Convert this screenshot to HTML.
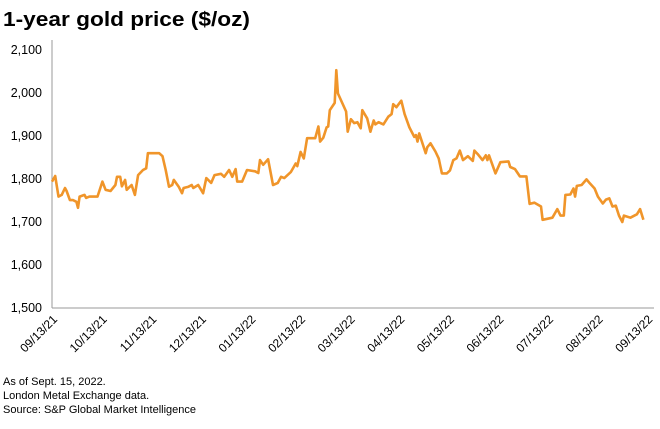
<!DOCTYPE html>
<html><head><meta charset="utf-8"><style>
body{margin:0;background:#fff;}
svg text{font-family:"Liberation Sans",sans-serif;}
</style></head><body>
<svg id="chart" width="660" height="424" viewBox="0 0 660 424" xmlns="http://www.w3.org/2000/svg">
<text x="3" y="26" font-size="20" font-weight="bold" fill="#000" textLength="247" lengthAdjust="spacingAndGlyphs">1-year gold price ($/oz)</text>
<g id="yaxis"></g>
<g id="xaxis"></g>
<line x1="52" y1="40" x2="52" y2="308" stroke="#9a9a9a" stroke-width="1"/>
<line x1="52" y1="308" x2="654" y2="308" stroke="#9a9a9a" stroke-width="1"/>
<path id="line" fill="none" stroke="#f0952a" stroke-width="2.6" stroke-linejoin="round"/>
<g font-size="11" fill="#000">
<text x="3" y="385">As of Sept. 15, 2022.</text>
<text x="3" y="399">London Metal Exchange data.</text>
<text x="3" y="413">Source: S&amp;P Global Market Intelligence</text>
</g>
</svg>
<script>
const yTicks=[1500,1600,1700,1800,1900,2000,2100];
const yTickLabels=["1,500","1,600","1,700","1,800","1,900","2,000","2,100"];
const xTickLabels=["09/13/21","10/13/21","11/13/21","12/13/21","01/13/22","02/13/22","03/13/22","04/13/22","05/13/22","06/13/22","07/13/22","08/13/22","09/13/22"];
const days=[0,2,4,6,8,9,11,13,15,16,17,20,21,23,28,31,33,36,39,40,42,43,45,46,49,51,53,56,58,59,63,66,68,70,72,74,75,78,80,81,84,86,87,90,93,95,98,100,104,106,109,111,113,114,117,120,125,127,128,130,133,136,139,141,143,147,150,151,153,155,157,162,164,165,167,169,170,171,174,175,176,181,182,184,186,188,190,191,194,196,198,199,201,204,207,209,210,212,215,217,220,223,224,225,226,230,231,233,236,238,240,243,245,247,249,251,253,256,259,260,262,265,267,268,269,273,276,281,282,285,288,292,294,297,301,302,308,311,313,315,316,319,321,322,323,326,329,331,334,336,339,341,343,345,347,349,351,352,356,360,362,364];
const prices=[1794,1807,1759,1763,1779,1772,1751,1751,1747,1733,1759,1763,1756,1759,1759,1794,1775,1772,1786,1805,1805,1783,1798,1775,1786,1763,1809,1821,1825,1860,1860,1860,1853,1821,1782,1786,1798,1782,1767,1779,1782,1786,1779,1786,1767,1802,1791,1809,1812,1805,1821,1805,1823,1794,1794,1821,1818,1814,1844,1833,1846,1786,1791,1805,1802,1816,1836,1830,1863,1848,1895,1895,1922,1887,1896,1920,1922,1960,1977,2053,1999,1957,1910,1939,1930,1932,1918,1960,1941,1910,1936,1927,1932,1927,1945,1951,1974,1967,1982,1951,1920,1898,1902,1887,1906,1860,1874,1883,1864,1848,1813,1813,1820,1844,1848,1866,1844,1853,1842,1866,1858,1844,1855,1844,1855,1813,1839,1841,1828,1823,1806,1806,1742,1745,1736,1705,1710,1730,1715,1715,1763,1764,1778,1759,1784,1786,1799,1790,1778,1759,1743,1752,1755,1736,1738,1715,1700,1715,1710,1718,1730,1705];
const NS='http://www.w3.org/2000/svg';
function yScale(v){return 308-(v-1500)*0.43;}
function xScale(d){return 52+d*(593/365);}
function tickX(i){return 52+i*49.6;}
const ya=document.getElementById('yaxis');
yTicks.forEach((v,i)=>{
 const t=document.createElementNS(NS,'text');
 
 
 t.setAttribute('x',42);t.setAttribute('y',yScale(v)+4);
 t.setAttribute('text-anchor','end');t.setAttribute('font-size','12.5');
 t.textContent=yTickLabels[i];ya.appendChild(t);
});
const xa=document.getElementById('xaxis');
xTickLabels.forEach((s,i)=>{
 const x=tickX(i)+6,y=320;
 const t=document.createElementNS(NS,'text');
 
 
 t.setAttribute('x',x);t.setAttribute('y',y);
 t.setAttribute('text-anchor','end');t.setAttribute('font-size','12');
 t.setAttribute('transform','rotate(-45 '+x+' '+y+')');
 t.textContent=s;xa.appendChild(t);
});
let d='';
days.forEach((dy,i)=>{d+=(i?'L':'M')+xScale(dy).toFixed(1)+' '+yScale(prices[i]).toFixed(1);});
document.getElementById('line').setAttribute('d',d);
</script>
</body></html>
